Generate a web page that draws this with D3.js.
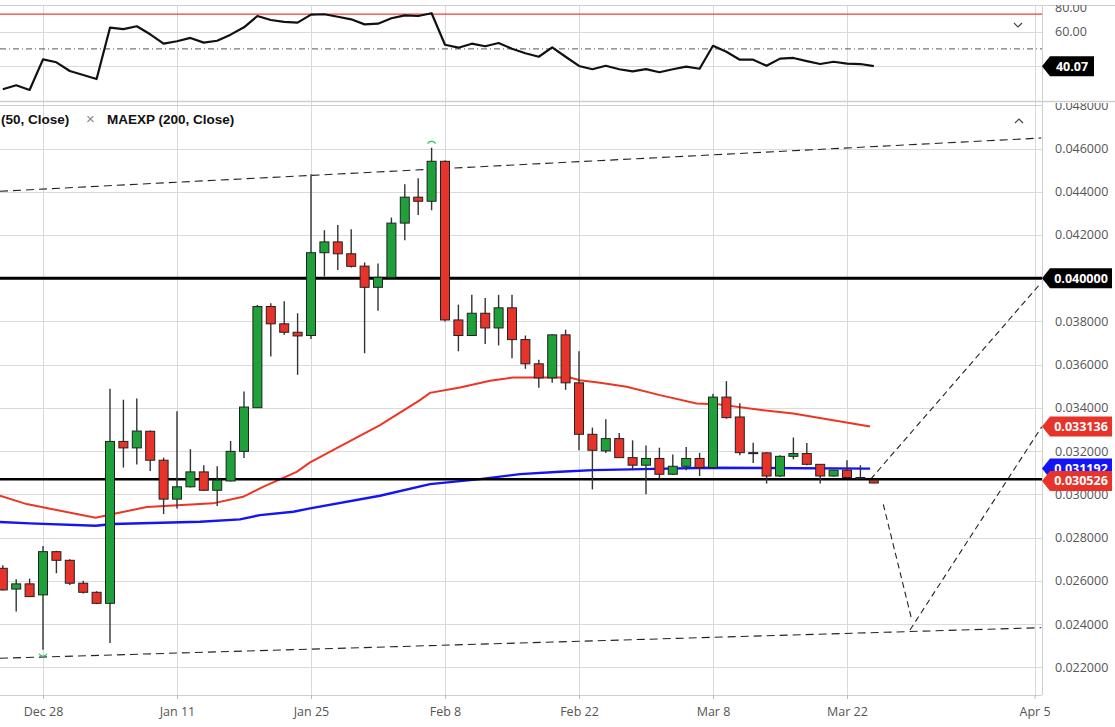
<!DOCTYPE html>
<html>
<head>
<meta charset="utf-8">
<script src="https://cdn.jsdelivr.net/npm/d3@7"></script>
<style>
  html, body { margin: 0; padding: 0; background: #fff; }
  svg { display: block; font-family: "Open Sans", sans-serif; }
</style>
</head>
<body>
<svg id="chart" width="1115" height="727"></svg>
<script>
/* ---------- data ---------- */
// x positions are trading-day indexes, Dec 28 = 0
const dateLabels = ["Dec 28", "Jan 11", "Jan 25", "Feb 8", "Feb 22", "Mar 8", "Mar 22", "Apr 5"];
const dateIdx = [0, 10, 20, 30, 40, 50, 60, 74];
const firstIdx = -3;

const opens = [0.02658, 0.02562, 0.02586, 0.02535, 0.02735, 0.02695, 0.02589, 0.02547, 0.02496, 0.03245,
  0.03215, 0.03292, 0.03158, 0.02978, 0.03035, 0.03104, 0.03019, 0.03062, 0.03199, 0.03401,
  0.03869, 0.03789, 0.03750, 0.03735, 0.04118, 0.04168, 0.04113, 0.04056, 0.03958, 0.04004,
  0.04255, 0.04375, 0.04356, 0.04541, 0.03807, 0.03735, 0.03838, 0.03770, 0.03863, 0.03716,
  0.03604, 0.03539, 0.03738, 0.03516, 0.03278, 0.03201, 0.03258, 0.03170, 0.03135, 0.03166,
  0.03093, 0.03130, 0.03166, 0.03124, 0.03450, 0.03358, 0.03193, 0.03192, 0.03085, 0.03176,
  0.03189, 0.03139, 0.03085, 0.03112, 0.03078, 0.03066];
const highs = [0.02672, 0.02607, 0.02610, 0.02761, 0.02739, 0.02700, 0.02600, 0.02552, 0.03489, 0.03438,
  0.03443, 0.03296, 0.03170, 0.03384, 0.03209, 0.03135, 0.03130, 0.03247, 0.03476, 0.03876,
  0.03884, 0.03893, 0.03838, 0.04481, 0.04222, 0.04246, 0.04227, 0.04073, 0.04068, 0.04281,
  0.04435, 0.04462, 0.04604, 0.04545, 0.03878, 0.03923, 0.03909, 0.03923, 0.03923, 0.03735,
  0.03623, 0.03741, 0.03762, 0.03662, 0.03309, 0.03348, 0.03284, 0.03250, 0.03226, 0.03216,
  0.03184, 0.03219, 0.03192, 0.03466, 0.03524, 0.03422, 0.03239, 0.03195, 0.03181, 0.03263,
  0.03238, 0.03140, 0.03113, 0.03158, 0.03135, 0.03066];
const lows = [0.02555, 0.02458, 0.02525, 0.02281, 0.02635, 0.02581, 0.02541, 0.02492, 0.02312, 0.03124,
  0.03138, 0.03108, 0.02909, 0.02935, 0.03032, 0.03016, 0.02946, 0.03060, 0.03168, 0.03401,
  0.03638, 0.03739, 0.03553, 0.03719, 0.04008, 0.04038, 0.04050, 0.03653, 0.03850, 0.04000,
  0.04176, 0.04293, 0.04315, 0.03800, 0.03662, 0.03733, 0.03696, 0.03689, 0.03630, 0.03581,
  0.03493, 0.03516, 0.03484, 0.03204, 0.03023, 0.03192, 0.03168, 0.03112, 0.03001, 0.03073,
  0.03090, 0.03112, 0.03085, 0.03120, 0.03350, 0.03181, 0.03145, 0.03050, 0.03080, 0.03162,
  0.03135, 0.03050, 0.03082, 0.03075, 0.03072, 0.03052];
const closes = [0.02558, 0.02586, 0.02527, 0.02735, 0.02695, 0.02589, 0.02547, 0.02496, 0.03245, 0.03215,
  0.03293, 0.03158, 0.02978, 0.03035, 0.03104, 0.03019, 0.03066, 0.03199, 0.03404, 0.03869,
  0.03789, 0.03750, 0.03733, 0.04118, 0.04168, 0.04113, 0.04055, 0.03958, 0.04004, 0.04255,
  0.04375, 0.04356, 0.04541, 0.03807, 0.03735, 0.03838, 0.03770, 0.03863, 0.03716, 0.03604,
  0.03539, 0.03738, 0.03516, 0.03278, 0.03204, 0.03258, 0.03170, 0.03135, 0.03166, 0.03093,
  0.03130, 0.03166, 0.03124, 0.03450, 0.03355, 0.03193, 0.03189, 0.03085, 0.03176, 0.03189,
  0.03139, 0.03085, 0.03112, 0.03078, 0.03075, 0.030526];

const rsiVals = [26.8, 29.1, 26.4, 44.0, 42.3, 37.3, 35.0, 32.7, 62.2, 61.4,
  63.0, 58.4, 53.0, 54.4, 56.3, 53.6, 54.7, 58.2, 62.4, 68.9,
  66.6, 65.5, 65.1, 69.7, 69.9, 68.5, 67.0, 64.1, 64.5, 67.6,
  69.3, 68.9, 70.5, 52.4, 50.7, 53.0, 51.5, 53.4, 50.1, 47.5,
  45.5, 50.9, 45.5, 40.2, 38.3, 40.3, 38.3, 37.1, 38.4, 36.6,
  38.3, 39.8, 38.6, 51.8, 48.4, 43.8, 43.8, 40.3, 44.4, 44.8,
  43.0, 41.3, 42.6, 41.5, 41.3, 40.07];
const rsiTicks = [40, 60, 80];
const rsiOverbought = 70;
const rsiMid = 50;

// MA (50) and MAEXP (200): [trading-day index, value]
const maIdx = [-3.21, -1.22, 3.93, 5.22, 7.74, 12.69, 14.93, 16.42, 18.93, 19.93, 21.64, 25.15, 28.13, 28.88,
  31.12, 33.36, 35.07, 37.61, 39.33, 40.07, 41.57, 43.56, 46.04, 48.78, 50.28, 53.75, 55.99, 61.72];
const maVals = [0.029935, 0.029551, 0.028918, 0.029089, 0.029413, 0.029584, 0.029889, 0.030351, 0.031045,
  0.031479, 0.032048, 0.033204, 0.034360, 0.034697, 0.034947, 0.035252, 0.035409, 0.035409, 0.035409,
  0.035284, 0.035169, 0.034975, 0.034591, 0.034207, 0.034175, 0.033897, 0.033745, 0.033136];
const emaIdx = [-3.21, -0.97, 3.93, 5.22, 11.72, 14.70, 16.19, 18.68, 19.93, 25.15, 28.88, 32.61, 35.60,
  38.58, 41.04, 44.78, 49.78, 61.72];
const emaVals = [0.028720, 0.028659, 0.028548, 0.028627, 0.028733, 0.028844, 0.029043, 0.029196, 0.029353,
  0.029935, 0.030476, 0.030707, 0.030939, 0.031045, 0.031124, 0.031170, 0.031230, 0.031192];

const priceTicks = [0.022, 0.024, 0.026, 0.028, 0.030, 0.032, 0.034, 0.036, 0.038, 0.040, 0.042, 0.044, 0.046, 0.048];
const levelLines = [0.040, 0.0307];
const upperChannel = [[-3.21, 0.044022], [74.5, 0.046486]];
const lowerChannel = [[-3.21, 0.022418], [74.5, 0.023833]];
const projUp = [[61.77, 0.030707], [74.5, 0.039800]];
const projDown = [[62.71, 0.029538], [64.78, 0.024327]];
const projBack = [[64.70, 0.023727], [74.53, 0.033125]];

/* ---------- layout ---------- */
const width = 1115;
const plotRight = 1042;
const rsiTop = 5, rsiBottom = 101;
const mainTop = 105.5, mainBottom = 695;
const green = "#1fa03a", red = "#e8332a", blue = "#1414f5";
const fmtPrice = d3.format(".6f");

const svg = d3.select("#chart");
const defs = svg.append("defs");
defs.append("clipPath").attr("id", "clip-rsi")
    .append("rect").attr("x", 0).attr("y", rsiTop).attr("width", plotRight).attr("height", rsiBottom - rsiTop);
defs.append("clipPath").attr("id", "clip-main")
    .append("rect").attr("x", 0).attr("y", mainTop).attr("width", plotRight).attr("height", mainBottom - mainTop);
defs.append("clipPath").attr("id", "clip-main-axis")
    .append("rect").attr("x", plotRight).attr("y", 103).attr("width", width - plotRight).attr("height", mainBottom - 103);
defs.append("clipPath").attr("id", "clip-rsi-axis")
    .append("rect").attr("x", plotRight).attr("y", rsiTop).attr("width", width - plotRight).attr("height", rsiBottom - rsiTop);

/* ---------- scales ---------- */
const x = d3.scaleLinear().domain([0, 60]).range([43, 847]);
const y = d3.scaleLinear().domain([0.022, 0.048]).range([667.3, 105.3]);
const yRsi = d3.scaleLinear().domain([40, 60]).range([66.3, 31.5]);

const candles = opens.map((o, k) => ({i: firstIdx + k, o, h: highs[k], l: lows[k], c: closes[k]}));

/* ---------- grid & frame ---------- */
const grid = svg.append("g").attr("stroke", "#dadada").attr("stroke-width", 1);
grid.selectAll(".vgrid").data(dateIdx).join("line")
    .attr("x1", d => Math.round(x(d)) + 0.5).attr("x2", d => Math.round(x(d)) + 0.5)
    .attr("y1", rsiTop).attr("y2", mainBottom);
grid.selectAll(".hgrid").data(priceTicks).join("line")
    .attr("x1", 0).attr("x2", plotRight)
    .attr("y1", d => Math.round(y(d)) + 0.5).attr("y2", d => Math.round(y(d)) + 0.5);
grid.selectAll(".rgrid").data(rsiTicks.filter(t => yRsi(t) > rsiTop)).join("line")
    .attr("x1", 0).attr("x2", plotRight)
    .attr("y1", d => Math.round(yRsi(d)) + 0.5).attr("y2", d => Math.round(yRsi(d)) + 0.5);

const frame = svg.append("g").attr("stroke", "#cfcfcf").attr("fill", "none");
frame.append("line").attr("x1", 0).attr("x2", width).attr("y1", rsiTop + 0.5).attr("y2", rsiTop + 0.5);
frame.append("line").attr("x1", 0).attr("x2", width).attr("y1", rsiBottom + 0.5).attr("y2", rsiBottom + 0.5).attr("stroke-width", 1.5);
frame.append("line").attr("x1", 0).attr("x2", plotRight).attr("y1", mainTop).attr("y2", mainTop);
frame.append("line").attr("x1", 0).attr("x2", plotRight).attr("y1", mainBottom + 0.5).attr("y2", mainBottom + 0.5);
frame.append("line").attr("x1", plotRight + 0.5).attr("x2", plotRight + 0.5).attr("y1", rsiTop).attr("y2", mainBottom);

/* ---------- RSI panel ---------- */
const rsiG = svg.append("g").attr("clip-path", "url(#clip-rsi)");
rsiG.append("line").attr("x1", 0).attr("x2", plotRight)
    .attr("y1", yRsi(rsiOverbought)).attr("y2", yRsi(rsiOverbought))
    .attr("stroke", "#f03c3c").attr("stroke-width", 1.2);
rsiG.append("line").attr("x1", 0).attr("x2", plotRight)
    .attr("y1", yRsi(rsiMid)).attr("y2", yRsi(rsiMid))
    .attr("stroke", "#555").attr("stroke-width", 1).attr("stroke-dasharray", "6,3,1,3");
rsiG.append("path")
    .datum(rsiVals)
    .attr("fill", "none").attr("stroke", "#111").attr("stroke-width", 2.2).attr("stroke-linejoin", "round")
    .attr("d", d3.line().x((d, k) => x(firstIdx + k)).y(d => yRsi(d)));

// down chevron
svg.append("path").attr("d", "M1014,23 L1018,27 L1022,23")
    .attr("fill", "none").attr("stroke", "#444").attr("stroke-width", 1.2);

/* ---------- main panel ---------- */
const mainG = svg.append("g").attr("clip-path", "url(#clip-main)");
const linePx = d3.line().x(d => x(d[0])).y(d => y(d[1]));

// channel + projection lines
const dashed = [upperChannel, lowerChannel, projUp, projDown, projBack];
mainG.selectAll(".dash").data(dashed).join("path")
    .attr("fill", "none").attr("stroke", "#222").attr("stroke-width", 1.1)
    .attr("stroke-dasharray", (d, k) => k < 2 ? "8,5" : "6,4")
    .attr("d", linePx);

// moving averages
mainG.append("path")
    .datum(maIdx.map((d, k) => [d, maVals[k]]))
    .attr("fill", "none").attr("stroke", "#ee3524").attr("stroke-width", 2)
    .attr("d", linePx);
mainG.append("path")
    .datum(emaIdx.map((d, k) => [d, emaVals[k]]))
    .attr("fill", "none").attr("stroke", blue).attr("stroke-width", 2.4)
    .attr("d", linePx);

// horizontal levels
mainG.selectAll(".level").data(levelLines).join("line")
    .attr("x1", 0).attr("x2", plotRight)
    .attr("y1", d => y(d)).attr("y2", d => y(d))
    .attr("stroke", "#000").attr("stroke-width", (d, k) => k === 0 ? 3 : 2.6);

// candles
const cg = mainG.append("g");
cg.selectAll(".wick").data(candles).join("line")
    .attr("x1", d => x(d.i)).attr("x2", d => x(d.i))
    .attr("y1", d => y(d.h)).attr("y2", d => y(d.l))
    .attr("stroke", "#333").attr("stroke-width", 1.4);
cg.selectAll(".body").data(candles).join("rect")
    .attr("x", d => x(d.i) - 4.5).attr("width", 9)
    .attr("y", d => y(Math.max(d.o, d.c)))
    .attr("height", d => Math.max(1, Math.abs(y(d.o) - y(d.c))))
    .attr("fill", d => d.c >= d.o ? green : red)
    .attr("stroke", "#222").attr("stroke-width", 1);

// high / low markers
const hiCandle = candles.reduce((a, b) => b.h > a.h ? b : a);
const loCandle = candles.reduce((a, b) => b.l < a.l ? b : a);
mainG.append("path")
    .attr("d", `M${x(hiCandle.i) - 4},${y(hiCandle.h) - 4} A4.5,4.5 0 0 1 ${x(hiCandle.i) + 4},${y(hiCandle.h) - 4}`)
    .attr("fill", "none").attr("stroke", "#2ecc71").attr("stroke-width", 1.3);
mainG.append("path")
    .attr("d", `M${x(loCandle.i) - 4},${y(loCandle.l) + 4} A4.5,4.5 0 0 0 ${x(loCandle.i) + 4},${y(loCandle.l) + 4}`)
    .attr("fill", "none").attr("stroke", "#2ecc71").attr("stroke-width", 1.3);

// up chevron
svg.append("path").attr("d", "M1015,123 L1019,119 L1023,123")
    .attr("fill", "none").attr("stroke", "#444").attr("stroke-width", 1.2);

// legend
const legend = svg.append("g").attr("font-family", "'Liberation Sans', Arial, sans-serif")
    .attr("font-size", 13.5).attr("font-weight", "bold").attr("fill", "#111");
legend.append("text").attr("x", 1).attr("y", 124).text("(50, Close)");
legend.append("text").attr("x", 86).attr("y", 124).attr("font-weight", "normal")
    .attr("fill", "#888").attr("font-size", 15).text("×");
legend.append("text").attr("x", 107).attr("y", 124).text("MAEXP (200, Close)");

/* ---------- axes ---------- */
const axisStyle = g => {
    g.select(".domain").remove();
    g.selectAll("text").attr("fill", "#555").attr("font-size", 12.5).attr("font-family", "'Open Sans', sans-serif");
};

svg.append("g").attr("clip-path", "url(#clip-main-axis)")
    .append("g").attr("transform", `translate(${plotRight},0)`)
    .call(d3.axisRight(y).tickValues(priceTicks).tickFormat(fmtPrice).tickSize(0).tickPadding(13))
    .call(axisStyle);

const rsiAxis = svg.append("g").attr("clip-path", "url(#clip-rsi-axis)")
    .append("g").attr("transform", `translate(${plotRight},0)`)
    .call(d3.axisRight(yRsi).tickValues(rsiTicks).tickFormat(d3.format(".2f")).tickSize(0).tickPadding(13))
    .call(axisStyle);
// keep the top label inside the panel, like the platform does
rsiAxis.selectAll(".tick").attr("transform", d => `translate(0,${Math.max(yRsi(d), 8)})`);

svg.append("g").attr("transform", `translate(0,${mainBottom})`)
    .call(d3.axisBottom(x).tickValues(dateIdx).tickFormat((d, k) => dateLabels[k]).tickSize(4).tickPadding(8))
    .call(axisStyle)
    .call(g => g.selectAll("line").attr("stroke", "#bbb"));

/* ---------- price tags ---------- */
function tag(yPos, text, fill, w = 70) {
    const x0 = plotRight, h = 10;
    const g = svg.append("g");
    g.append("path")
        .attr("d", `M${x0},${yPos} L${x0 + 8},${yPos - h} L${x0 + w},${yPos - h} L${x0 + w},${yPos + h} L${x0 + 8},${yPos + h} Z`)
        .attr("fill", fill);
    g.append("text").attr("x", x0 + 8 + (w - 8) / 2).attr("y", yPos).attr("dy", "0.35em")
        .attr("text-anchor", "middle").attr("fill", "#fff").attr("font-weight", "bold")
        .attr("font-size", 12.5).text(text);
}

tag(yRsi(rsiVals[rsiVals.length - 1]), d3.format(".2f")(rsiVals[rsiVals.length - 1]), "#000", 52);
tag(y(levelLines[0]), fmtPrice(levelLines[0]), "#000");
tag(y(maVals[maVals.length - 1]), fmtPrice(maVals[maVals.length - 1]), red);
tag(y(emaVals[emaVals.length - 1]), fmtPrice(emaVals[emaVals.length - 1]), blue);
tag(y(closes[closes.length - 1]) - 2, fmtPrice(closes[closes.length - 1]), red);
</script>
</body>
</html>
